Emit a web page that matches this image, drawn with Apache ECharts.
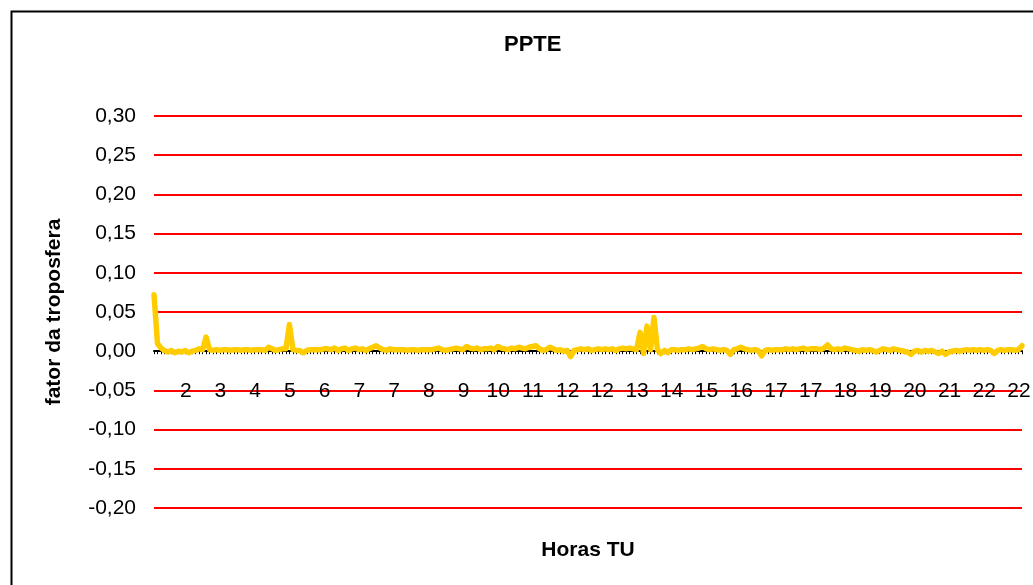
<!DOCTYPE html>
<html>
<head>
    <meta charset="utf-8">
    <style type="text/css">
        html,body { margin: 0px; padding: 0px; height: 100%; background: #fff; }
    </style>
    <script src="https://cdn.jsdelivr.net/npm/echarts@6/dist/echarts.min.js"></script>
</head>
<body>
    <div id="canvas1" style="width: 1033px; height: 585px;"></div>
    <script type="text/javascript">
        // rótulos das horas no eixo x (um a cada 10 amostras)
        var tickLabels = ['2','3','4','5','6','7','7','8','9','10','11','12','12',
                          '13','14','15','16','17','17','18','19','20','21','22','22'];
        var samplesPerTick = 10;

        // fator da troposfera (251 amostras)
        var fator = [
            0.072, 0.010, 0.004, 0.001, -0.001, 0.001, -0.002, 0.000, -0.001, 0.001,
            -0.002, 0.000, 0.001, 0.003, 0.002, 0.018, 0.002, 0.001, 0.002, 0.001,
            0.002, 0.002, 0.001, 0.002, 0.002, 0.001, 0.002, 0.002, 0.001, 0.002,
            0.002, 0.002, 0.001, 0.005, 0.003, 0.001, 0.002, 0.003, 0.003, 0.034,
            0.002, 0.001, 0.001, -0.002, 0.001, 0.002, 0.002, 0.002, 0.002, 0.003,
            0.003, 0.002, 0.004, 0.001, 0.003, 0.004, 0.001, 0.003, 0.004, 0.002,
            0.003, 0.001, 0.003, 0.005, 0.007, 0.004, 0.002, 0.001, 0.003, 0.002,
            0.002, 0.002, 0.002, 0.001, 0.002, 0.002, 0.001, 0.002, 0.002, 0.002,
            0.002, 0.003, 0.004, 0.002, 0.001, 0.002, 0.003, 0.004, 0.003, 0.002,
            0.006, 0.004, 0.003, 0.004, 0.002, 0.003, 0.003, 0.004, 0.002, 0.006,
            0.004, 0.003, 0.002, 0.004, 0.003, 0.005, 0.004, 0.003, 0.005, 0.006,
            0.007, 0.003, 0.001, 0.002, 0.005, 0.003, 0.001, 0.002, 0.000, 0.001,
            -0.007, 0.001, 0.002, 0.003, 0.002, 0.003, 0.001, 0.002, 0.003, 0.002,
            0.003, 0.002, 0.003, 0.001, 0.003, 0.004, 0.003, 0.004, 0.003, 0.002,
            0.024, -0.003, 0.032, 0.002, 0.043, 0.002, -0.003, 0.001, -0.002, 0.002,
            0.002, 0.001, 0.002, 0.002, 0.003, 0.002, 0.003, 0.004, 0.006, 0.003,
            0.002, 0.003, 0.002, 0.001, 0.002, 0.001, -0.004, 0.002, 0.003, 0.005,
            0.003, 0.002, 0.001, 0.002, 0.001, -0.006, 0.001, 0.002, 0.001, 0.002,
            0.002, 0.002, 0.003, 0.002, 0.003, 0.002, 0.003, 0.004, 0.002, 0.003,
            0.003, 0.003, 0.002, 0.004, 0.008, 0.003, 0.002, 0.003, 0.002, 0.004,
            0.003, 0.002, 0.001, 0.000, 0.002, 0.001, 0.002, 0.001, -0.001, 0.001,
            0.003, 0.002, 0.001, 0.003, 0.002, 0.001, 0.000, -0.001, -0.004, 0.000,
            0.001, -0.001, 0.001, 0.000, 0.001, -0.001, -0.003, 0.000, -0.004, -0.001,
            0.000, 0.001, 0.000, 0.001, 0.002, 0.001, 0.002, 0.001, 0.002, 0.001,
            0.002, 0.001, -0.003, 0.001, 0.002, 0.001, 0.002, 0.002, 0.001, 0.002, 0.007
        ];

        // categorias: só as amostras de hora cheia recebem rótulo
        var categorias = [];
        for (var i = 0; i < fator.length; i++) {
            categorias.push(i > 0 && i % samplesPerTick === 0 ? tickLabels[i / samplesPerTick - 1] : '');
        }

        var fonte = 'Liberation Sans, Arial, sans-serif';
        var myChart1 = echarts.init(document.getElementById('canvas1'));

        var option1 = {
            animation: false,
            backgroundColor: '#fff',
            title: {
                text: 'PPTE', left: 499, top: 29,
                textStyle: { fontFamily: fonte, fontSize: 22, fontWeight: 'bold', color: '#000' }
            },
            graphic: [{
                type: 'rect', left: 9, top: 9, silent: true,
                shape: { width: 1040, height: 600 },
                style: { fill: 'none', stroke: '#000', lineWidth: 2 }
            }],
            grid: { left: 154, right: 11, top: 116, bottom: 77, outerBoundsMode: 'none', containLabel: false },
            xAxis: {
                type: 'category',
                data: categorias,
                boundaryGap: false,
                z: 1,
                name: 'Horas TU',
                nameLocation: 'middle',
                nameGap: 32,
                nameTextStyle: { fontFamily: fonte, fontSize: 21, fontWeight: 'bold', color: '#000' },
                axisLine: { onZero: true, lineStyle: { color: '#000', width: 2 } },
                axisTick: { show: true, interval: 0, length: 3, lineStyle: { color: '#000' } },
                axisLabel: {
                    interval: function (idx) { return idx > 0 && idx % samplesPerTick === 0; },
                    margin: -127,
                    padding: [0, 6, 0, 0],
                    fontFamily: fonte, fontSize: 21, color: '#000'
                },
                splitLine: { show: false }
            },
            yAxis: {
                type: 'value',
                min: -0.2, max: 0.3, interval: 0.05,
                name: 'fator da troposfera',
                nameLocation: 'middle',
                nameGap: 89,
                nameTextStyle: { fontFamily: fonte, fontSize: 21, fontWeight: 'bold', color: '#000' },
                axisLine: { show: false },
                axisTick: { show: false },
                axisLabel: {
                    margin: 18,
                    fontFamily: fonte, fontSize: 21, color: '#000',
                    formatter: function (v) { return v.toFixed(2).replace('.', ','); }
                },
                splitLine: { lineStyle: { color: '#ff0000', width: 2 } }
            },
            series: [{
                name: 'fator',
                type: 'line',
                data: fator,
                showSymbol: false,
                symbol: 'none',
                z: 3,
                lineStyle: { color: '#ffcc00', width: 5.5, join: 'round', cap: 'round' },
                itemStyle: { color: '#ffcc00' }
            }]
        };

        myChart1.setOption(option1);
    </script>
</body>
</html>
